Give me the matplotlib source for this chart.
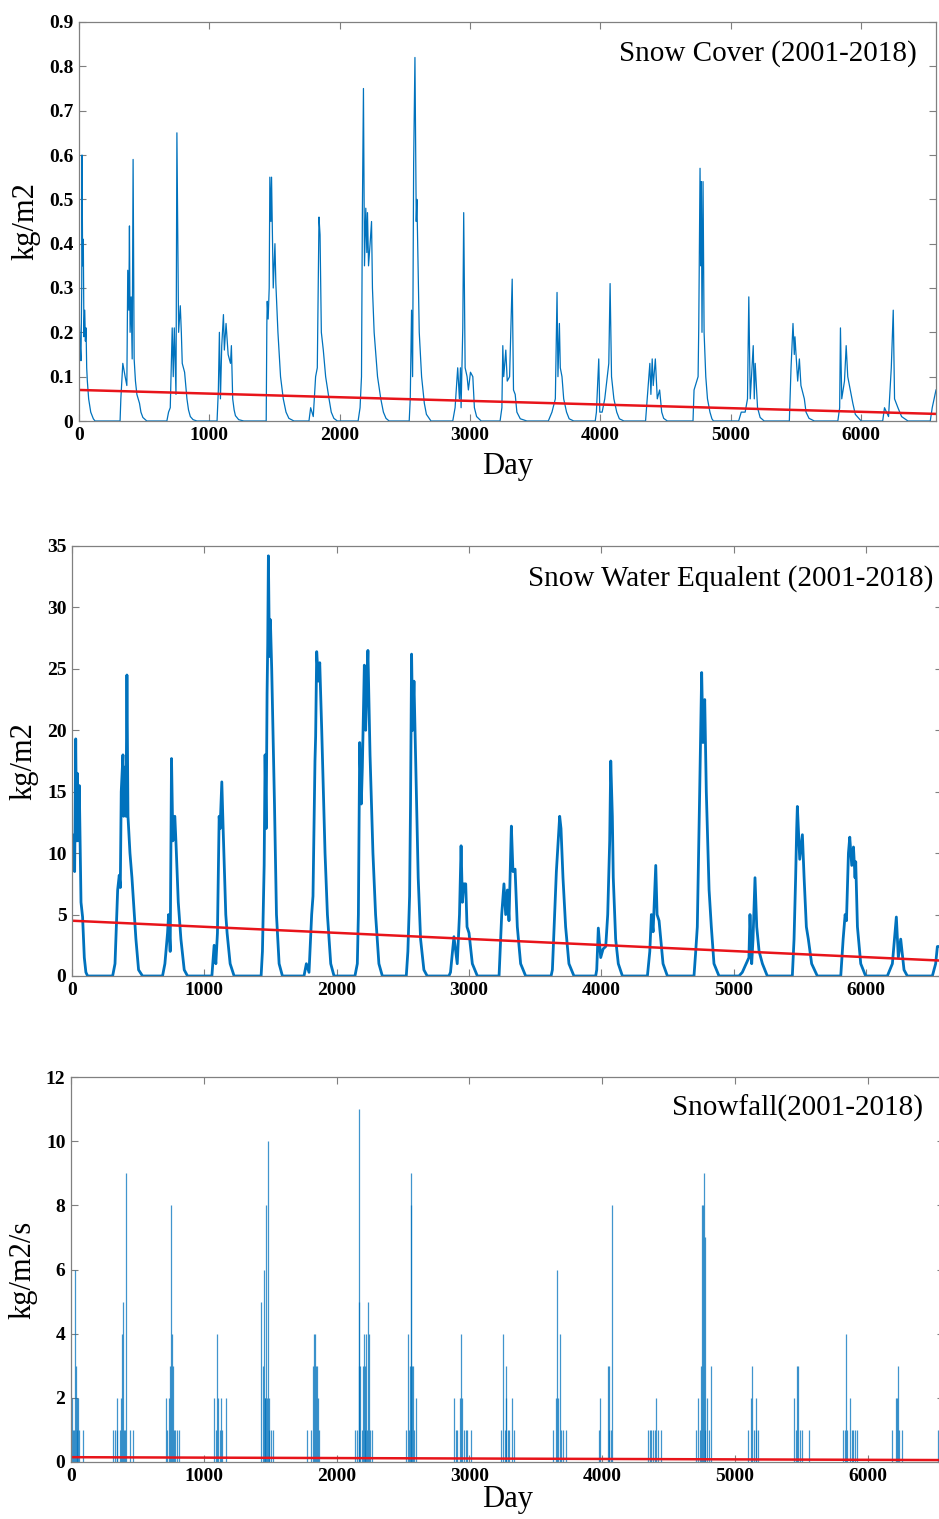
import matplotlib

matplotlib.use("Agg")
import matplotlib.pyplot as plt

# ---- data (day, value) ----
cover_points = [
    (0, 0.245), (8, 0.18), (15, 0.136), (21, 0.3), (23, 0.60), (28, 0.35), (33, 0.41), (38, 0.19),
    (44, 0.25), (49, 0.18), (54, 0.21), (59, 0.12), (64, 0.09), (74, 0.05), (90, 0.02), (110, 0.005), (123, 0),
    (315, 0), (321, 0.05), (336, 0.13), (354, 0.10), (367, 0.08), (374, 0.34), (382, 0.25), (387, 0.44),
    (392, 0.2), (400, 0.28), (408, 0.14), (415, 0.59), (423, 0.14), (433, 0.09), (444, 0.06), (464, 0.04),
    (475, 0.02), (490, 0.008), (520, 0),
    (674, 0), (687, 0.02), (700, 0.03), (715, 0.21), (723, 0.1), (731, 0.21), (744, 0.06), (751, 0.65),
    (764, 0.2), (777, 0.26), (785, 0.2), (792, 0.13), (810, 0.11), (828, 0.05), (840, 0.025), (854, 0.01),
    (875, 0.003), (905, 0),
    (1059, 0), (1069, 0.07), (1077, 0.2), (1085, 0.05), (1095, 0.17), (1108, 0.24), (1115, 0.16),
    (1128, 0.22), (1144, 0.15), (1162, 0.13), (1169, 0.17), (1179, 0.05), (1190, 0.025), (1200, 0.012),
    (1225, 0.003), (1264, 0),
    (1436, 0), (1441, 0.22), (1444, 0.27), (1451, 0.23), (1459, 0.3), (1464, 0.55), (1472, 0.45),
    (1477, 0.55), (1482, 0.45), (1490, 0.3), (1503, 0.4), (1510, 0.31), (1526, 0.2), (1546, 0.1),
    (1567, 0.05), (1588, 0.02), (1610, 0.006), (1649, 0),
    (1764, 0), (1777, 0.03), (1797, 0.01), (1815, 0.1), (1828, 0.12), (1841, 0.46), (1849, 0.42),
    (1859, 0.2), (1874, 0.16), (1892, 0.1), (1918, 0.05), (1935, 0.02), (1955, 0.006), (1982, 0),
    (2141, 0), (2156, 0.03), (2167, 0.1), (2174, 0.48), (2182, 0.75), (2190, 0.35), (2200, 0.48),
    (2208, 0.38), (2213, 0.47), (2221, 0.35), (2233, 0.4), (2244, 0.45), (2251, 0.3), (2264, 0.2),
    (2290, 0.1), (2315, 0.05), (2335, 0.02), (2355, 0.006), (2379, 0),
    (2533, 0), (2541, 0.05), (2551, 0.25), (2559, 0.1), (2567, 0.58), (2577, 0.82), (2587, 0.45),
    (2592, 0.5), (2610, 0.2), (2628, 0.1), (2649, 0.04), (2665, 0.015), (2700, 0),
    (2867, 0), (2885, 0.03), (2905, 0.12), (2918, 0.05), (2926, 0.12), (2931, 0.03), (2944, 0.21),
    (2951, 0.47), (2962, 0.12), (2977, 0.1), (2987, 0.07), (3003, 0.11), (3021, 0.1), (3033, 0.03),
    (3050, 0.01), (3085, 0),
    (3230, 0), (3244, 0.03), (3251, 0.17), (3258, 0.1), (3274, 0.16), (3285, 0.09), (3303, 0.1),
    (3323, 0.32), (3333, 0.07), (3346, 0.06), (3359, 0.02), (3385, 0.005), (3436, 0),
    (3600, 0), (3628, 0.02), (3654, 0.05), (3667, 0.29), (3674, 0.1), (3685, 0.22), (3692, 0.12),
    (3705, 0.1), (3718, 0.05), (3740, 0.02), (3760, 0.005), (3795, 0),
    (3960, 0), (3969, 0.02), (3987, 0.14), (3995, 0.02), (4013, 0.02), (4033, 0.05), (4064, 0.13),
    (4074, 0.31), (4085, 0.1), (4103, 0.05), (4125, 0.02), (4145, 0.005), (4180, 0),
    (4346, 0), (4359, 0.05), (4379, 0.13), (4387, 0.06), (4397, 0.14), (4405, 0.08), (4421, 0.14),
    (4436, 0.05), (4454, 0.07), (4470, 0.02), (4485, 0.006), (4513, 0),
    (4710, 0), (4718, 0.07), (4749, 0.1), (4754, 0.21), (4764, 0.57), (4769, 0.35), (4774, 0.54),
    (4779, 0.2), (4787, 0.54), (4795, 0.2), (4808, 0.1), (4821, 0.05), (4840, 0.02), (4855, 0.005), (4867, 0),
    (5060, 0), (5080, 0.02), (5110, 0.02), (5128, 0.05), (5138, 0.28), (5149, 0.05), (5172, 0.17),
    (5180, 0.05), (5187, 0.13), (5205, 0.03), (5225, 0.008), (5256, 0),
    (5449, 0), (5462, 0.12), (5477, 0.22), (5487, 0.15), (5492, 0.19), (5513, 0.09), (5526, 0.14),
    (5538, 0.08), (5564, 0.05), (5577, 0.02), (5600, 0.006), (5641, 0),
    (5821, 0), (5835, 0.03), (5841, 0.21), (5851, 0.05), (5872, 0.09), (5885, 0.17), (5897, 0.1),
    (5910, 0.08), (5936, 0.04), (5955, 0.015), (6000, 0),
    (6165, 0), (6179, 0.03), (6210, 0.01), (6231, 0.12), (6246, 0.25), (6256, 0.05), (6282, 0.03),
    (6310, 0.01), (6359, 0),
    (6530, 0), (6545, 0.03), (6574, 0.07),
]

swe_points = [
    (0, 10), (5, 11.5), (13, 9), (20, 8.5), (28, 19.3), (35, 11), (40, 16.5), (45, 11), (55, 15.5),
    (63, 10), (68, 6), (80, 4.8), (93, 1.5), (105, 0.3), (118, 0),
    (307, 0), (325, 1), (345, 7), (357, 8.2), (365, 7.2), (372, 15), (385, 18), (390, 13), (397, 17),
    (408, 13), (415, 24.5), (423, 13), (438, 10), (453, 8), (465, 6), (483, 3), (503, 0.5), (533, 0),
    (684, 0), (702, 1), (722, 3.5), (730, 5), (742, 2), (752, 17.7), (762, 11), (777, 13), (787, 10.5),
    (803, 6), (823, 3), (848, 0.5), (873, 0),
    (1057, 0), (1074, 2.5), (1087, 1), (1099, 3.5), (1112, 13), (1119, 12), (1132, 15.8), (1142, 12),
    (1162, 5), (1172, 3.5), (1195, 1), (1225, 0),
    (1429, 0), (1439, 2), (1452, 9), (1459, 18), (1467, 12), (1474, 23), (1479, 27), (1484, 34.2),
    (1492, 26), (1499, 29), (1509, 25), (1530, 14), (1545, 5), (1565, 1), (1590, 0),
    (1753, 0), (1771, 1), (1791, 0.3), (1811, 5), (1821, 6.5), (1836, 17.5), (1841, 19.5), (1849, 26.4),
    (1862, 24), (1872, 25.5), (1887, 20), (1912, 10), (1930, 5), (1955, 1), (1980, 0),
    (2138, 0), (2156, 1), (2164, 5), (2174, 19), (2186, 14), (2194, 17), (2209, 25.3), (2219, 20),
    (2226, 23), (2236, 26.5), (2252, 18), (2274, 10), (2294, 5), (2319, 1), (2345, 0),
    (2526, 0), (2538, 2), (2551, 6.5), (2558, 14), (2566, 26.2), (2574, 20), (2584, 24), (2596, 18),
    (2616, 8), (2634, 3), (2659, 0.5), (2684, 0),
    (2848, 0), (2860, 0.3), (2886, 3.2), (2911, 1), (2928, 5), (2940, 10.6), (2950, 6), (2961, 7.5),
    (2975, 7.5), (2985, 4), (3000, 3.5), (3025, 1), (3063, 0),
    (3227, 0), (3247, 5), (3264, 7.5), (3277, 5), (3290, 7), (3302, 4.5), (3320, 12.2), (3332, 8.5),
    (3348, 8.7), (3365, 4), (3390, 1), (3428, 0),
    (3620, 0), (3630, 0.5), (3660, 8.5), (3685, 13), (3695, 12), (3710, 8), (3730, 4), (3755, 1), (3793, 0),
    (3957, 0), (3965, 0.5), (3977, 3.9), (3995, 1.5), (4013, 2.2), (4033, 2.4), (4048, 5), (4063, 11),
    (4071, 17.5), (4083, 13), (4090, 8), (4108, 3), (4128, 1), (4159, 0),
    (4348, 0), (4366, 2), (4378, 5), (4391, 3.6), (4411, 9), (4421, 5), (4436, 4.5), (4449, 3),
    (4466, 1), (4499, 0),
    (4700, 0), (4713, 2), (4725, 4), (4743, 15), (4758, 24.7), (4768, 19), (4781, 22.5), (4793, 15),
    (4814, 7), (4831, 4), (4851, 1), (4889, 0),
    (5040, 0), (5065, 0.3), (5115, 1.5), (5123, 5), (5136, 1), (5146, 3), (5161, 8), (5174, 4),
    (5192, 2), (5217, 1), (5254, 0),
    (5443, 0), (5456, 3), (5468, 8), (5476, 12), (5481, 13.8), (5499, 9.5), (5519, 11.5), (5532, 8),
    (5549, 4), (5564, 3), (5589, 1), (5632, 0),
    (5809, 0), (5827, 3), (5842, 5), (5852, 4.5), (5867, 10), (5877, 11.3), (5892, 9), (5905, 10.5),
    (5917, 8), (5922, 9.3), (5935, 4), (5960, 1), (5997, 0),
    (6161, 0), (6180, 0.5), (6199, 1), (6229, 4.8), (6244, 1.5), (6262, 3), (6287, 0.5), (6312, 0),
    (6501, 0), (6526, 1), (6539, 2.4), (6574, 2.4),
]

snowfall_points = [
    (5, 2), (13, 1), (23, 1), (28, 6), (35, 3), (43, 2), (48, 1), (53, 2), (58, 1), (88, 1),
    (318, 1), (330, 1), (343, 2), (348, 1), (368, 1), (375, 2), (383, 4), (388, 5), (396, 1), (405, 1),
    (416, 9), (443, 1), (468, 1),
    (718, 2), (726, 1), (738, 2), (748, 3), (753, 8), (758, 4), (766, 3), (776, 1), (786, 1), (798, 1), (813, 1),
    (1074, 2), (1094, 1), (1101, 4), (1109, 2), (1119, 1), (1126, 2), (1136, 1), (1169, 2),
    (1434, 5), (1444, 3), (1452, 6), (1459, 2), (1464, 2), (1469, 8), (1477, 2), (1482, 10), (1489, 1),
    (1494, 2), (1507, 1), (1519, 1),
    (1775, 1), (1807, 1), (1820, 3), (1830, 4), (1840, 4), (1845, 3), (1852, 3), (1860, 2), (1870, 1),
    (2140, 1), (2153, 1), (2165, 3), (2168, 5), (2170, 11), (2178, 3), (2188, 1), (2196, 3), (2203, 4),
    (2211, 3), (2216, 1), (2223, 4), (2228, 1), (2235, 5), (2243, 4), (2250, 1), (2270, 1),
    (2526, 1), (2538, 4), (2546, 1), (2553, 3), (2561, 8), (2563, 9), (2571, 3), (2578, 3), (2586, 1), (2596, 2),
    (2884, 2), (2896, 1), (2909, 1), (2926, 2), (2936, 4), (2946, 2), (2959, 1), (2971, 1), (2985, 1), (3009, 1),
    (3240, 1), (3252, 4), (3265, 1), (3272, 3), (3277, 2), (3290, 1), (3302, 1), (3322, 2), (3335, 1),
    (3629, 1), (3654, 2), (3661, 6), (3671, 2), (3681, 4), (3689, 1), (3704, 1), (3724, 1),
    (3975, 1), (3982, 2), (4043, 3), (4048, 1), (4055, 3), (4068, 1), (4073, 8),
    (4344, 1), (4357, 1), (4369, 1), (4382, 1), (4394, 1), (4407, 2), (4420, 1), (4444, 1),
    (4703, 1), (4720, 2), (4733, 1), (4745, 3), (4753, 8), (4758, 8), (4763, 9), (4773, 1), (4778, 7),
    (4788, 2), (4803, 1), (4821, 3),
    (5097, 1), (5117, 2), (5127, 3), (5140, 1), (5155, 1), (5162, 2), (5177, 1),
    (5448, 2), (5461, 1), (5468, 3), (5476, 3), (5486, 1), (5503, 1), (5561, 1),
    (5812, 1), (5825, 1), (5834, 4), (5842, 1), (5866, 2), (5879, 1), (5891, 1), (5904, 1), (5917, 1),
    (6183, 1), (6213, 2), (6221, 2), (6226, 3), (6238, 1), (6256, 1),
    (6527, 1),
]

# linear trend end points (day 0 and last day)
trend_days = [0, 6574]
cover_trend = [0.070, 0.016]
swe_trend = [4.5, 1.25]
snowfall_trend = [0.15, 0.06]

cover_yticks = [0, 0.1, 0.2, 0.3, 0.4, 0.5, 0.6, 0.7, 0.8, 0.9]
cover_yticklabels = ["0", "0.1", "0.2", "0.3", "0.4", "0.5", "0.6", "0.7", "0.8", "0.9"]
swe_yticks = [0, 5, 10, 15, 20, 25, 30, 35]
snowfall_yticks = [0, 2, 4, 6, 8, 10, 12]
day_ticks = [0, 1000, 2000, 3000, 4000, 5000, 6000]

BLUE = "#0072BD"
RED = "#E8141A"

plt.rcParams["font.family"] = "Liberation Serif"

W, H = 939, 1519
fig = plt.figure(figsize=(W / 100, H / 100), dpi=100)


def frac_axes(left, top, right, bottom):
    return fig.add_axes([left / W, 1 - bottom / H, (right - left) / W, (bottom - top) / H])


def style(ax, yticks, ylabels, ylim, ylabel, title, title_x, xlabel=None):
    ax.set_xlim(0, 6574)
    ax.set_ylim(*ylim)
    ax.set_xticks(day_ticks)
    ax.set_xticklabels([str(t) for t in day_ticks], fontweight="bold", fontsize=14)
    ax.set_yticks(yticks)
    ax.set_yticklabels(ylabels, fontweight="bold", fontsize=14)
    ax.tick_params(direction="in", top=True, right=True, length=5, width=0.8,
                   color="#7f7f7f", pad=4)
    for sp in ax.spines.values():
        sp.set_color("#808080")
        sp.set_linewidth(0.9)
    ax.set_ylabel(ylabel, fontsize=22, labelpad=6)
    if xlabel:
        ax.set_xlabel(xlabel, fontsize=22, labelpad=6)
    ax.text(title_x, 0.955, title, transform=ax.transAxes, ha="right", va="top", fontsize=21)


# panel 1: snow cover
ax1 = frac_axes(79, 22, 936, 421)
d, v = zip(*cover_points)
ax1.plot(d, v, color=BLUE, lw=0.9)
ax1.plot(trend_days, cover_trend, color=RED, lw=1.8)
style(ax1, cover_yticks, cover_yticklabels, (0, 0.9), "kg/m2",
      "Snow Cover (2001-2018)", 0.978, xlabel="Day")

# panel 2: snow water equivalent
ax2 = frac_axes(72, 546, 942, 976)
d, v = zip(*swe_points)
ax2.plot(d, v, color=BLUE, lw=2.0)
ax2.plot(trend_days, swe_trend, color=RED, lw=1.8)
style(ax2, swe_yticks, [str(t) for t in swe_yticks], (0, 35), "kg/m2",
      "Snow Water Equalent (2001-2018)", 0.99)

# panel 3: snowfall
ax3 = frac_axes(71, 1077, 944, 1462)
d, v = zip(*snowfall_points)
ax3.vlines(d, 0, v, color=BLUE, lw=0.9, alpha=0.75)
ax3.plot(trend_days, snowfall_trend, color=RED, lw=1.8)
style(ax3, snowfall_yticks, [str(t) for t in snowfall_yticks], (0, 12), "kg/m2/s",
      "Snowfall(2001-2018)", 0.976, xlabel="Day")
ax3.xaxis.labelpad = 0

fig.savefig("out.png", dpi=100)
plt.close(fig)
